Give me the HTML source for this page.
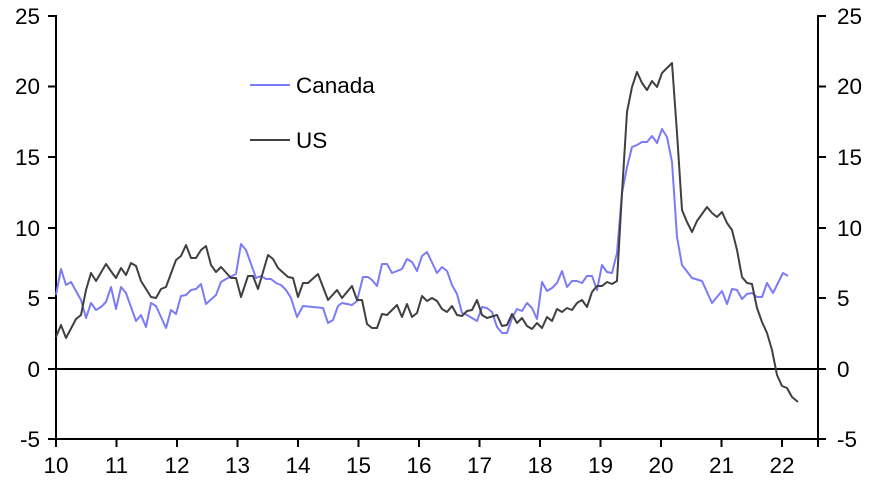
<!DOCTYPE html>
<html><head><meta charset="utf-8"><style>
body{margin:0;background:#fff;}
svg{display:block;font-family:"Liberation Sans",Arial,sans-serif;}
</style></head><body>
<svg width="872" height="481" viewBox="0 0 872 481">
<g stroke="#000" stroke-width="2" fill="none">
<line x1="56" y1="15" x2="56" y2="440"/>
<line x1="818" y1="15" x2="818" y2="440"/>
<line x1="56" y1="369" x2="818" y2="369"/>
<line x1="56" y1="439" x2="818" y2="439"/>
<g>
<line x1="48" y1="16" x2="56" y2="16"/><line x1="48" y1="86.5" x2="56" y2="86.5"/><line x1="48" y1="157" x2="56" y2="157"/><line x1="48" y1="228" x2="56" y2="228"/><line x1="48" y1="298" x2="56" y2="298"/><line x1="48" y1="369" x2="56" y2="369"/><line x1="48" y1="439" x2="56" y2="439"/>
<line x1="818" y1="16" x2="826" y2="16"/><line x1="818" y1="86.5" x2="826" y2="86.5"/><line x1="818" y1="157" x2="826" y2="157"/><line x1="818" y1="228" x2="826" y2="228"/><line x1="818" y1="298" x2="826" y2="298"/><line x1="818" y1="369" x2="826" y2="369"/><line x1="818" y1="439" x2="826" y2="439"/>
<line x1="56" y1="439" x2="56" y2="447"/><line x1="116.5" y1="439" x2="116.5" y2="447"/><line x1="177" y1="439" x2="177" y2="447"/><line x1="237.5" y1="439" x2="237.5" y2="447"/><line x1="298" y1="439" x2="298" y2="447"/><line x1="358.5" y1="439" x2="358.5" y2="447"/><line x1="419" y1="439" x2="419" y2="447"/><line x1="479.5" y1="439" x2="479.5" y2="447"/><line x1="540" y1="439" x2="540" y2="447"/><line x1="600.5" y1="439" x2="600.5" y2="447"/><line x1="661" y1="439" x2="661" y2="447"/><line x1="721.5" y1="439" x2="721.5" y2="447"/><line x1="782" y1="439" x2="782" y2="447"/><line x1="818" y1="439" x2="818" y2="447"/>
</g>
</g>
<g font-size="22.5" fill="#000" text-anchor="end">
<text x="40" y="24">25</text><text x="40" y="94">20</text><text x="40" y="165">15</text><text x="40" y="236">10</text><text x="40" y="306">5</text><text x="40" y="377">0</text><text x="40" y="447">-5</text>
</g>
<g font-size="22.5" fill="#000" text-anchor="start">
<text x="837" y="24">25</text><text x="837" y="94">20</text><text x="837" y="165">15</text><text x="837" y="236">10</text><text x="837" y="306">5</text><text x="837" y="377">0</text><text x="837" y="447">-5</text>
</g>
<g font-size="22.5" fill="#000" text-anchor="middle">
<text x="56" y="473">10</text><text x="116.5" y="473">11</text><text x="177" y="473">12</text><text x="237.5" y="473">13</text><text x="298" y="473">14</text><text x="358.5" y="473">15</text><text x="419" y="473">16</text><text x="479.5" y="473">17</text><text x="540" y="473">18</text><text x="600.5" y="473">19</text><text x="661" y="473">20</text><text x="721.5" y="473">21</text><text x="782" y="473">22</text>
</g>
<polyline fill="none" stroke="#7b7bf7" stroke-width="2" stroke-linejoin="round" points="56,295 61,269 66,285 71,282 81,300 86,318 91,303 96,310 101,307 106,302 111,287 116,309 121,287 126,293 136,321 141,315 146,327 151,303 156,306 166,328 171,310 176,314 181,296 186,295 191,290 196,289 201,284 206,304 216,295 221,282 226,279 236,274 241,244 246,250 256,278 261,276 266,279 271,279 276,283 281,285 286,290 291,298 297,317 303,306 323,308 328,323 333,320 338,306 342,303 352,305 357,301 363,277 368,277 372,280 377,286 382,264 387,264 392,273 402,269 407,259 412,262 417,271 422,256 427,252 437,273 442,267 447,271 452,285 457,294 462,313 467,315 477,321 482,307 487,308 492,312 497,327 502,333 507,333 512,318 517,309 522,311 527,303 532,308 537,319 542,282 547,291 552,288 557,283 562,271 567,287 572,281 577,281 582,283 587,276 592,276 597,290 602,265 607,272 612,273 617,253 622,193 627,167 632,147 637,145 642,142 647,142 652,136 657,143 662,129 667,137 672,162 677,237 682,265 692,278 702,281 712,303 722,291 727,304 732,289 737,290 742,299 747,294 752,293 757,297 762,297 767,283 773,293 783,273 788,276"/>
<polyline fill="none" stroke="#404040" stroke-width="2" stroke-linejoin="round" points="56,337 61,325 66,338 76,319 81,315 86,290 91,273 96,281 106,264 113,274 116,278 121,268 126,275 131,263 136,266 141,281 151,297 156,298 161,289 166,287 176,260 181,256 186,245 191,258 196,258 201,250 206,246 211,265 216,272 221,267 231,278 236,278 241,297 248,276 253,276 258,289 268,255 273,259 278,268 288,277 293,278 298,297 303,283 308,283 318,274 328,300 337,290 342,298 352,286 357,300 362,300 367,324 372,328 377,328 382,314 387,315 397,305 402,317 407,304 412,317 417,313 422,296 427,301 432,298 437,301 442,309 447,312 452,306 457,315 462,316 467,311 472,310 477,300 482,315 487,318 497,315 502,326 507,325 512,314 517,323 522,318 527,326 532,329 537,323 542,328 547,317 552,321 557,309 562,312 567,308 572,310 577,303 582,300 587,307 592,292 597,286 602,286 607,282 612,284 617,281 622,193 627,112 632,87 637,72 642,83 647,90 652,81 657,87 662,73 667,68 672,63 677,133 682,210 687,222 692,232 697,221 707,207 712,213 717,217 722,212 727,223 732,230 737,250 742,277 747,283 752,284 757,308 762,322 767,333 772,350 777,375 782,386 787,388 792,397 798,402"/>
<line x1="250" y1="85" x2="290" y2="85" stroke="#7b7bf7" stroke-width="2"/>
<text x="296" y="93" font-size="22.5">Canada</text>
<line x1="250" y1="140" x2="290" y2="140" stroke="#404040" stroke-width="2"/>
<text x="296" y="148" font-size="22.5">US</text>
</svg>
</body></html>
